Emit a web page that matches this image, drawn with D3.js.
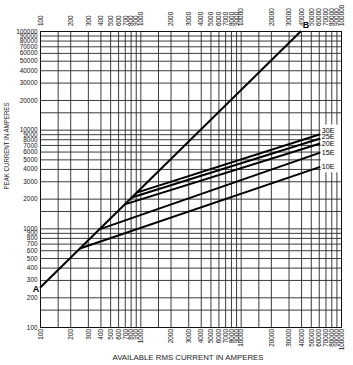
<!DOCTYPE html>
<html>
<head>
<meta charset="utf-8">
<script src="https://cdn.jsdelivr.net/npm/d3@7"></script>
<style>
  body { margin: 0; background: #fff; }
  svg { display: block; font-family: "Liberation Sans", Arial, Helvetica, sans-serif; }
</style>
</head>
<body>
<div id="wrapper"></div>
<script>
// grid lines (same values on both log axes)
const gridValues = [
  100, 150, 200, 300, 400, 500, 600, 700, 800, 900,
  1000, 1500, 2000, 3000, 4000, 5000, 6000, 7000, 8000, 9000,
  10000, 15000, 20000, 30000, 40000, 50000, 60000, 70000, 80000, 90000,
  100000,
]
// values that carry a tick label
const labelValues = [
  100, 200, 300, 400, 500, 600, 700, 800, 900,
  1000, 2000, 3000, 4000, 5000, 6000, 7000, 8000, 9000,
  10000, 20000, 30000, 40000, 50000, 60000, 70000, 80000, 90000,
  100000,
]

// line A-B : [rms, peak]
const lineAB = [[100, 250], [40000, 100000]]

// fuse let-through lines
const fuseNames = ["10E", "15E", "20E", "25E", "30E"]
const fuseStartRms = [250, 390, 700, 820, 920]
const fuseStartPeak = [625, 975, 1750, 2050, 2300]
const fuseEndRms = [62000, 62000, 62000, 62000, 62000]
const fuseEndPeak = [4200, 5850, 7250, 8150, 9000]

const dimensions = {
  width: 353,
  height: 365,
  margin: { top: 31, right: 12, bottom: 38, left: 40 },
}
dimensions.boundedWidth = dimensions.width - dimensions.margin.left - dimensions.margin.right
dimensions.boundedHeight = dimensions.height - dimensions.margin.top - dimensions.margin.bottom

const wrapper = d3.select("#wrapper")
  .append("svg")
    .attr("width", dimensions.width)
    .attr("height", dimensions.height)

const bounds = wrapper.append("g")
    .attr("transform", `translate(${dimensions.margin.left}, ${dimensions.margin.top})`)

const xScale = d3.scaleLog()
  .domain([100, 100000])
  .range([0, dimensions.boundedWidth])

const yScale = d3.scaleLog()
  .domain([100, 100000])
  .range([dimensions.boundedHeight, 0])

const labelFormat = d => labelValues.includes(d) ? d3.format("d")(d) : ""
const gridColor = "#262626"
const tickFont = 6.4

// horizontal grid + y labels
const yAxis = bounds.append("g")
  .call(d3.axisLeft(yScale)
    .tickValues(gridValues)
    .tickFormat(labelFormat)
    .tickSize(-dimensions.boundedWidth)
    .tickPadding(2.5))
yAxis.select(".domain").remove()
yAxis.selectAll("line").attr("stroke", gridColor).attr("stroke-width", 0.9)
yAxis.selectAll("text")
    .attr("font-size", tickFont)
    .attr("fill", "#111")
    .attr("font-family", null)

// vertical grid + bottom labels
const xAxisBottom = bounds.append("g")
    .attr("transform", `translate(0, ${dimensions.boundedHeight})`)
  .call(d3.axisBottom(xScale)
    .tickValues(gridValues)
    .tickFormat(labelFormat)
    .tickSize(-dimensions.boundedHeight))
xAxisBottom.select(".domain").remove()
xAxisBottom.selectAll("line").attr("stroke", gridColor).attr("stroke-width", 0.9)
xAxisBottom.selectAll("text")
    .attr("transform", "rotate(-90)")
    .attr("text-anchor", "end")
    .attr("x", -2)
    .attr("y", 0)
    .attr("dy", "0.35em")
    .attr("font-size", tickFont)
    .attr("fill", "#111")
    .attr("font-family", null)

// top labels
const xAxisTop = bounds.append("g")
  .call(d3.axisTop(xScale)
    .tickValues(labelValues)
    .tickSize(0)
    .tickFormat(d3.format("d")))
xAxisTop.select(".domain").remove()
xAxisTop.selectAll("text")
    .attr("transform", "rotate(-90)")
    .attr("text-anchor", "start")
    .attr("x", 5)
    .attr("y", 0)
    .attr("dy", "0.35em")
    .attr("font-size", tickFont)
    .attr("fill", "#111")
    .attr("font-family", null)

const lineGenerator = d3.line()
    .x(d => xScale(d[0]))
    .y(d => yScale(d[1]))

const fuses = fuseNames.map((name, i) => ({
  name,
  points: [[fuseStartRms[i], fuseStartPeak[i]], [fuseEndRms[i], fuseEndPeak[i]]],
}))

// fuse labels, pushed apart from the bottom up
let prevY = Infinity
const labelY = fuses.map(d => {
  const y = Math.min(yScale(d.points[1][1]) - 0.5, prevY - 6.2)
  prevY = y
  return y
})

// white patch behind the labels (grid is cut there)
const labelLeft = xScale(d3.max(fuseEndRms)) + 0.5
bounds.append("rect")
    .attr("x", labelLeft)
    .attr("y", d3.min(labelY) - 6)
    .attr("width", dimensions.boundedWidth - labelLeft)
    .attr("height", d3.max(labelY) - d3.min(labelY) + 12)
    .attr("fill", "#fff")

// frame
bounds.append("rect")
    .attr("x", 0.5)
    .attr("y", 0.5)
    .attr("width", dimensions.boundedWidth)
    .attr("height", dimensions.boundedHeight)
    .attr("fill", "none")
    .attr("stroke", "#111")
    .attr("stroke-width", 1)

// fuse lines
bounds.selectAll(".fuse")
  .data(fuses)
  .enter().append("path")
    .attr("class", "fuse")
    .attr("d", d => lineGenerator(d.points))
    .attr("fill", "none")
    .attr("stroke", "#000")
    .attr("stroke-width", 2)

// line A-B
bounds.append("path")
    .attr("d", lineGenerator(lineAB))
    .attr("fill", "none")
    .attr("stroke", "#000")
    .attr("stroke-width", 2)

bounds.selectAll(".fuse-label")
  .data(fuses)
  .enter().append("text")
    .attr("class", "fuse-label")
    .attr("x", d => xScale(d.points[1][0]) + 1.5)
    .attr("y", (d, i) => labelY[i])
    .attr("dy", "0.36em")
    .attr("font-size", 7.2)
    .attr("fill", "#000")
    .text(d => d.name)

// A and B markers
bounds.append("text")
    .attr("x", xScale(lineAB[0][0]) - 4)
    .attr("y", yScale(lineAB[0][1]) + 4.5)
    .attr("text-anchor", "middle")
    .attr("font-size", 9)
    .attr("font-weight", "bold")
    .text("A")

bounds.append("text")
    .attr("x", xScale(lineAB[1][0]) + 5)
    .attr("y", yScale(lineAB[1][1]) - 3.5)
    .attr("text-anchor", "middle")
    .attr("font-size", 9)
    .attr("font-weight", "bold")
    .attr("stroke", "#fff")
    .attr("stroke-width", 1.5)
    .attr("paint-order", "stroke")
    .text("B")

// axis titles
wrapper.append("text")
    .attr("x", 188)
    .attr("y", 359.5)
    .attr("text-anchor", "middle")
    .attr("font-size", 7)
    .attr("textLength", 151)
    .attr("lengthAdjust", "spacingAndGlyphs")
    .attr("fill", "#222")
    .text("AVAILABLE RMS CURRENT IN AMPERES")

wrapper.append("text")
    .attr("transform", "translate(9, 146) rotate(-90)")
    .attr("text-anchor", "middle")
    .attr("font-size", 7)
    .attr("textLength", 87)
    .attr("lengthAdjust", "spacingAndGlyphs")
    .attr("fill", "#222")
    .text("PEAK CURRENT IN AMPERES")
</script>
</body>
</html>
